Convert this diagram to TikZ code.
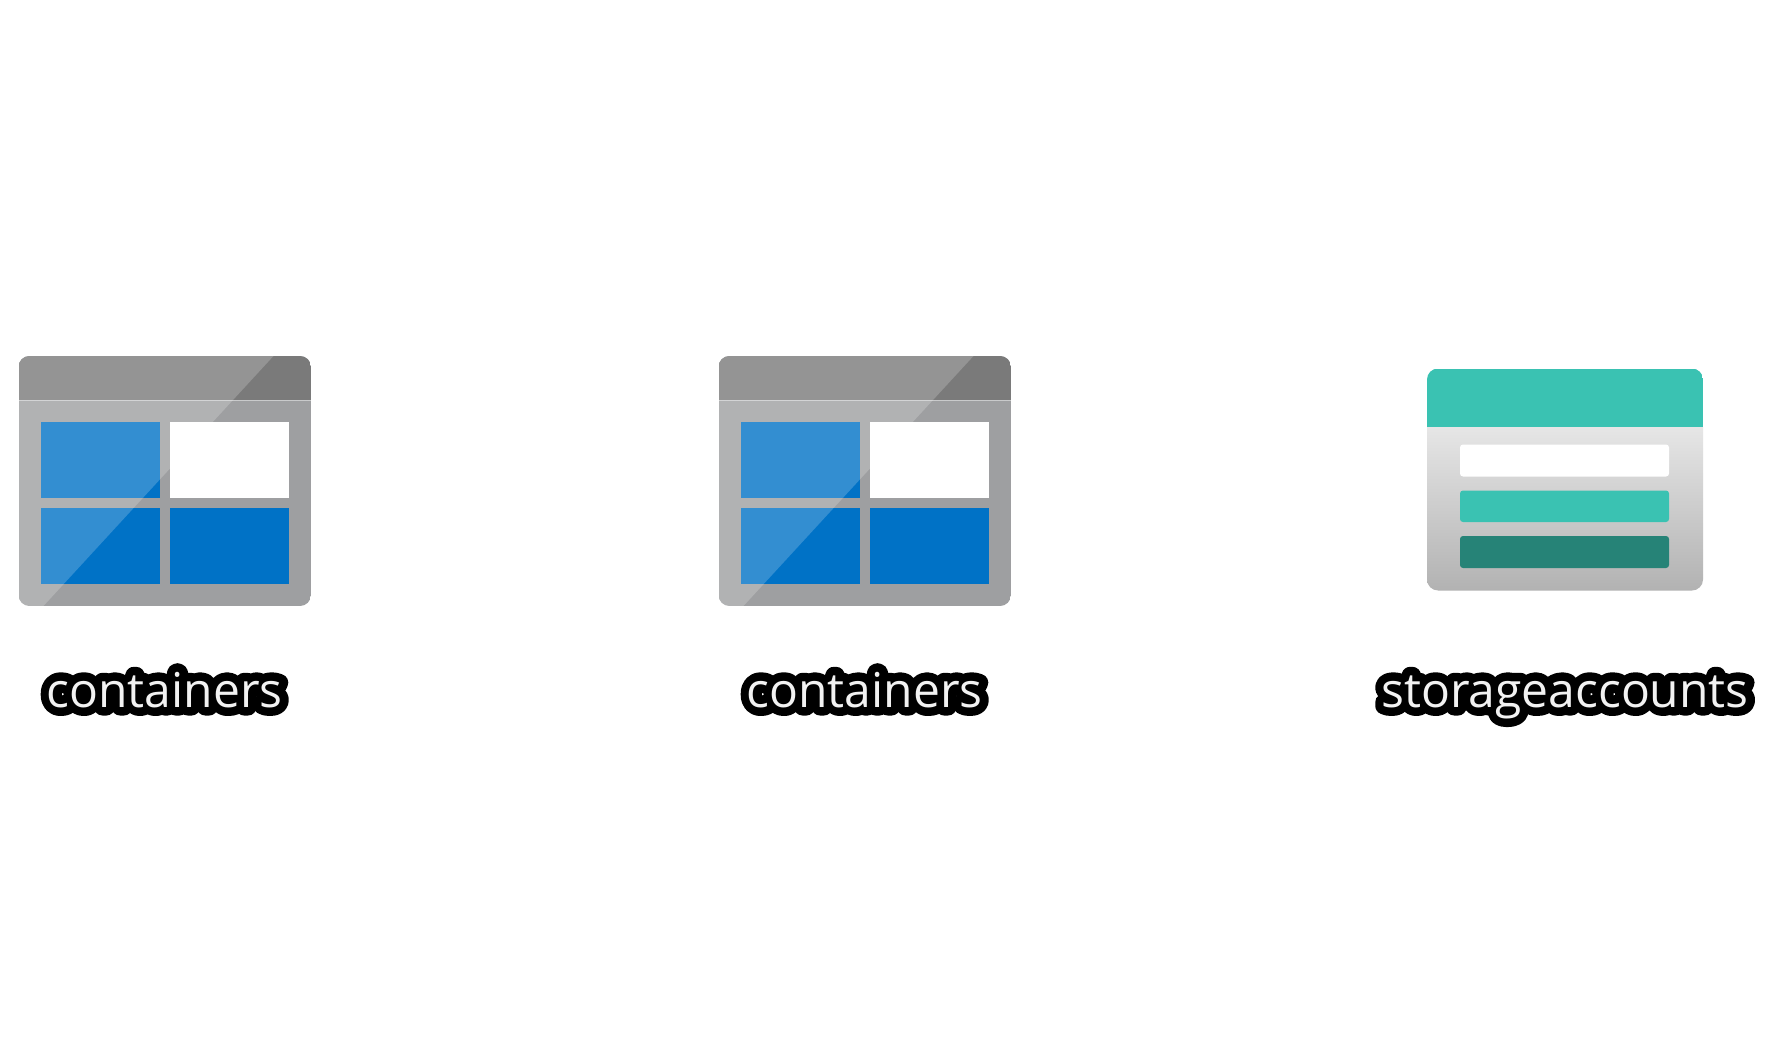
\documentclass[tikz,border=0pt]{standalone}
\usepackage{fontspec}
\setmainfont{Open Sans}
\definecolor{hdr}{HTML}{7A7A7A}
\definecolor{bodyg}{HTML}{9E9FA1}
\definecolor{blu}{HTML}{0072C6}
\definecolor{teal1}{HTML}{3AC2B2}
\definecolor{teal2}{HTML}{268377}
\definecolor{graytop}{HTML}{E6E6E6}
\definecolor{graybot}{HTML}{B2B2B2}
\newcommand{\halotext}[1]{\leavevmode\rlap{\special{pdf:code q 1 Tr 17 w 1 j 1 J 0 0 0 RG}#1\special{pdf:code Q}}\textcolor[HTML]{F2F2F2}{#1}}
\tikzset{
  x=1pt,y=-1pt,
  halo/.style={inner sep=0pt,anchor=base,font=\fontsize{48}{60}\selectfont},
  bar/.style={rounded corners=3pt},
  pics/bloblock/.style={code={
    \begin{scope}
      \clip[rounded corners=11pt] (0,0) rectangle (292.5,250);
      \fill[bodyg] (0,0) rectangle (292.5,250);
      \fill[hdr] (0,0) rectangle (292.5,44);
      \fill[white,opacity=.45] (0,43.5) rectangle (292.5,44.5);
      \fill[blu] (22,65.5) rectangle (141.5,141.5);
      \fill[white] (151.5,65.5) rectangle (270.5,141.5);
      \fill[blu] (22,152) rectangle (141.5,228);
      \fill[blu] (151.5,152) rectangle (270.5,228);
      \fill[white,opacity=.2] (0,0) -- (255,0) -- (25,250) -- (0,250) -- cycle;
    \end{scope}
  }},
  pics/storacct/.style={code={
    \begin{scope}
      \clip[rounded corners=11pt] (0,0) rectangle (276,222);
      \shade[top color=graytop,bottom color=graybot] (0,58.5) rectangle (276,222);
      \fill[teal1] (0,0) rectangle (276,58.5);
    \end{scope}
    \fill[white,bar] (33,76) rectangle (242,108);
    \fill[teal1,bar] (33,122) rectangle (242,153.5);
    \fill[teal2,bar] (33,167.5) rectangle (242,199.5);
  }},
}
\begin{document}
\begin{tikzpicture}
\useasboundingbox (0,0) rectangle (1766,1048);
\fill[white] (0,0) rectangle (1766,1048);
\pic at (18.5,356) {bloblock};
\pic at (718.5,356) {bloblock};
\pic at (1427,368.5) {storacct};
\node[halo] (l1) at (164.5,707) {\halotext{containers}};
\node[halo] (l2) at (864.5,707) {\halotext{containers}};
\node[halo] (l3) at (1565,707) {\halotext{storageaccounts}};
\end{tikzpicture}
\end{document}
